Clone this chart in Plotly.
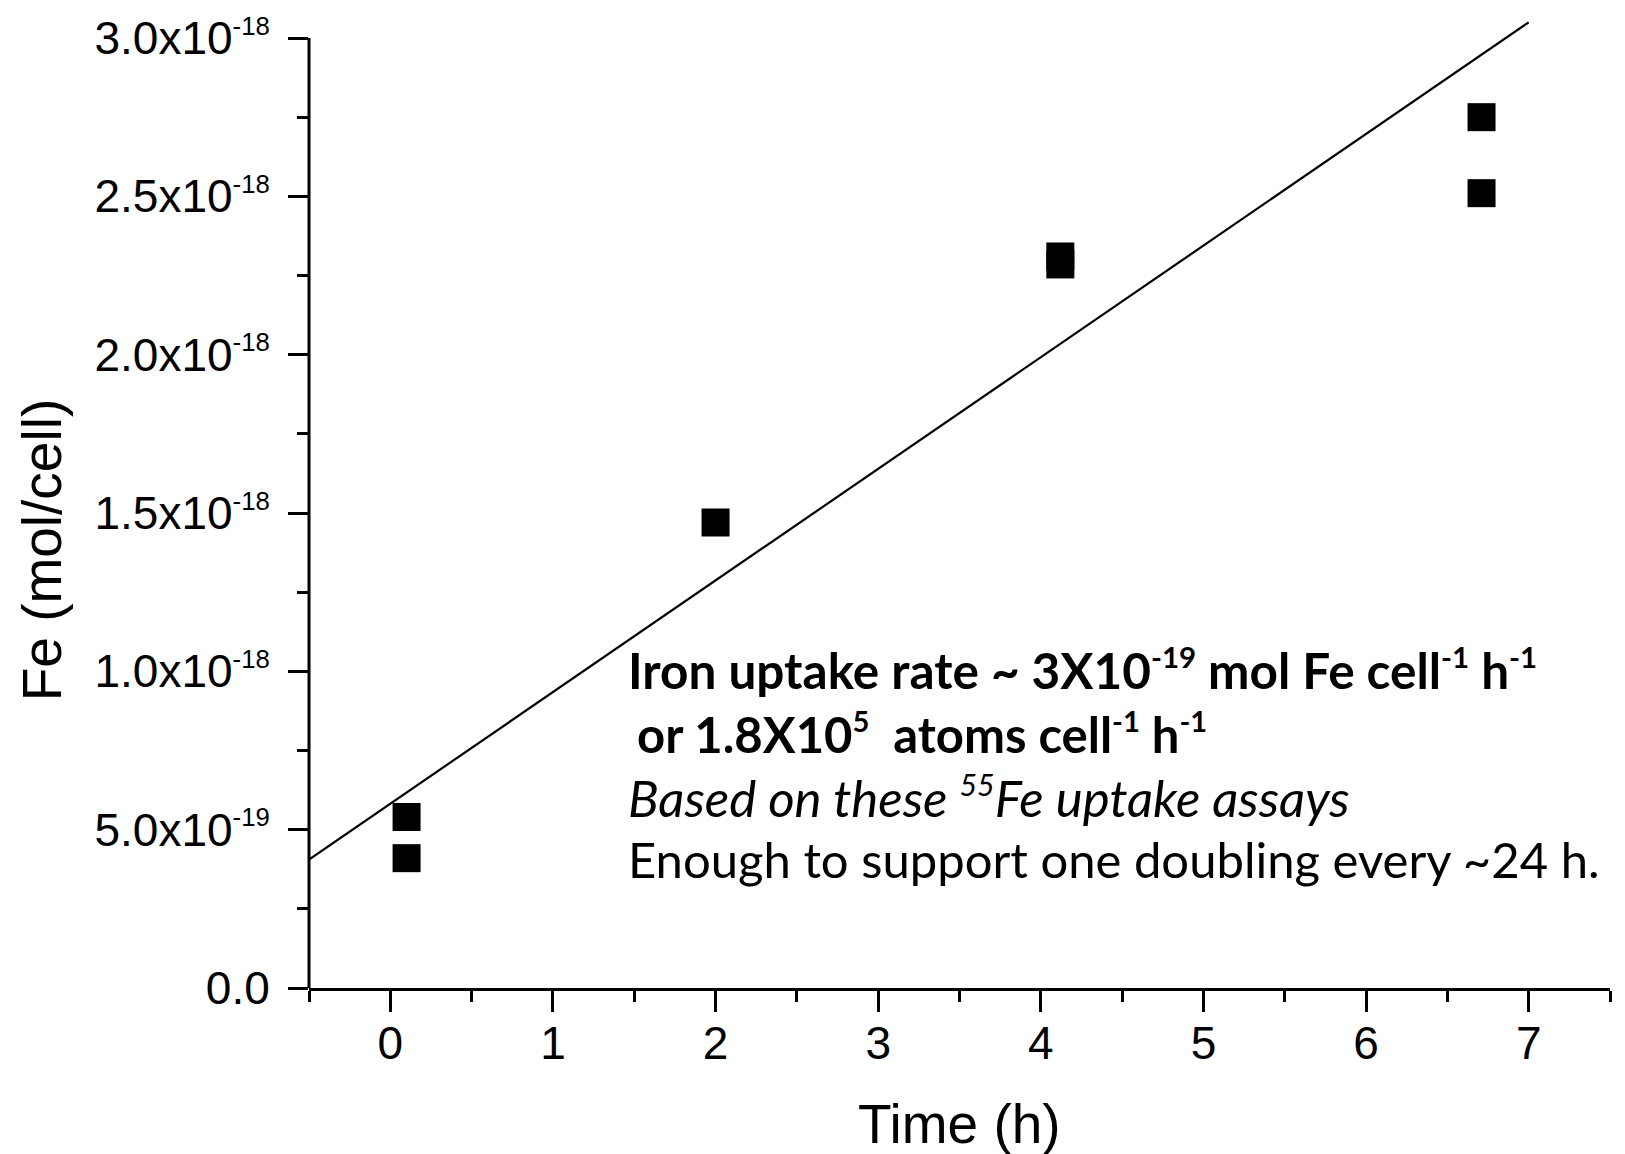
import plotly.graph_objects as go

# ---- data ----
time_h = [0.1, 0.1, 2.0, 4.12, 4.12, 6.71, 6.71]
fe_mol_cell = [0.54e-18, 0.41e-18, 1.47e-18, 2.31e-18, 2.285e-18, 2.750e-18, 2.510e-18]

fit_slope = 0.3525e-18      # mol cell^-1 h^-1
fit_intercept = 0.582e-18   # mol cell^-1
fit_x = [-0.5, 7.0]
fit_y = [fit_intercept + fit_slope * x for x in fit_x]

y_tick_vals = [0.0, 0.5e-18, 1.0e-18, 1.5e-18, 2.0e-18, 2.5e-18, 3.0e-18]
y_tick_text = ["0.0", "5.0x10", "1.0x10", "1.5x10", "2.0x10", "2.5x10", "3.0x10"]
y_tick_exp = ["", "-19", "-18", "-18", "-18", "-18", "-18"]
x_tick_vals = [0, 1, 2, 3, 4, 5, 6, 7]

x_range = [-0.5, 7.5]
y_top = 3.0e-18
y_range = [0, 3.06e-18]

NSUP = '<sup><span style="font-size:85%">{}</span></sup>'
annotation_lines = [
    ("<b>Iron uptake rate ~ 3X10" + NSUP.format("-19") + " mol Fe cell" + NSUP.format("-1")
     + " h" + NSUP.format("-1") + "</b>", 0.2440, 0.3284, 49.5),
    ("<b>or 1.8X10" + NSUP.format("5") + "\u00a0 atoms cell" + NSUP.format("-1")
     + " h" + NSUP.format("-1") + "</b>", 0.2505, 0.2634, 49),
    ("<i>Based on these " + NSUP.format("55") + "Fe uptake assays</i>", 0.2440, 0.1973, 51),
    ("Enough to support one doubling every ~24 h.", 0.2440, 0.1336, 49),
]

SUPFMT = '<sup><span style="font-size:80%">{}</span></sup>'
y_labels = [t + (SUPFMT.format(e) if e else "") for t, e in zip(y_tick_text, y_tick_exp)]

AX_FONT = "Liberation Sans, Arial, sans-serif"
NOTE_FONT = "Lato, Carlito, Calibri, sans-serif"

fig = go.Figure()
fig.add_trace(go.Scatter(
    x=fit_x, y=fit_y, mode="lines",
    line=dict(color="black", width=2.2), hoverinfo="skip", showlegend=False,
))
fig.add_trace(go.Scatter(
    x=time_h, y=fe_mol_cell, mode="markers",
    marker=dict(symbol="square", size=28, color="black", line=dict(width=0)),
    showlegend=False, cliponaxis=False,
))

# y axis line only up to the 3.0e-18 tick
fig.add_shape(type="line", xref="x domain", yref="y", x0=0, x1=0, y0=0, y1=y_top,
              line=dict(color="black", width=3), layer="above")

fig.update_layout(
    width=1625, height=1154,
    margin=dict(l=309, r=15, t=15, b=166),
    paper_bgcolor="white", plot_bgcolor="white",
    font=dict(family=AX_FONT, color="black"),
)
fig.update_xaxes(
    range=x_range, tickmode="array", tickvals=x_tick_vals,
    ticks="outside", ticklen=21, tickwidth=3, tickcolor="black",
    showline=True, linewidth=3, linecolor="black",
    showgrid=False, zeroline=False,
    tickfont=dict(size=46, family=AX_FONT), ticklabelstandoff=-8,
    minor=dict(tickmode="linear", tick0=-0.5, dtick=0.5, ticks="outside",
               ticklen=11, tickwidth=3, tickcolor="black", showgrid=False),
)
fig.update_yaxes(
    range=y_range, tickmode="array", tickvals=y_tick_vals, ticktext=y_labels,
    ticks="outside", ticklen=20, tickwidth=3, tickcolor="black",
    showline=False, showgrid=False, zeroline=False,
    tickfont=dict(size=46, family=AX_FONT), ticklabelstandoff=9,
    minor=dict(tickmode="linear", tick0=0, dtick=0.25e-18, ticks="outside",
               ticklen=11, tickwidth=3, tickcolor="black", showgrid=False),
)

annotations = [
    dict(text="Time (h)", xref="paper", yref="paper", x=0.5, y=-0.1403,
         xanchor="center", yanchor="middle", showarrow=False,
         font=dict(size=55, family=AX_FONT, color="black")),
    dict(text="Fe (mol/cell)", xref="paper", yref="paper", x=-0.2056, y=0.4522,
         xanchor="center", yanchor="middle", textangle=-90, showarrow=False,
         font=dict(size=55, family=AX_FONT, color="black")),
]
for txt, xp, yp, fs in annotation_lines:
    annotations.append(dict(text=txt, xref="paper", yref="paper", x=xp, y=yp,
                            xanchor="left", yanchor="middle", showarrow=False,
                            font=dict(size=fs, family=NOTE_FONT, color="black")))
fig.update_layout(annotations=annotations)

fig.write_html("out.html")
